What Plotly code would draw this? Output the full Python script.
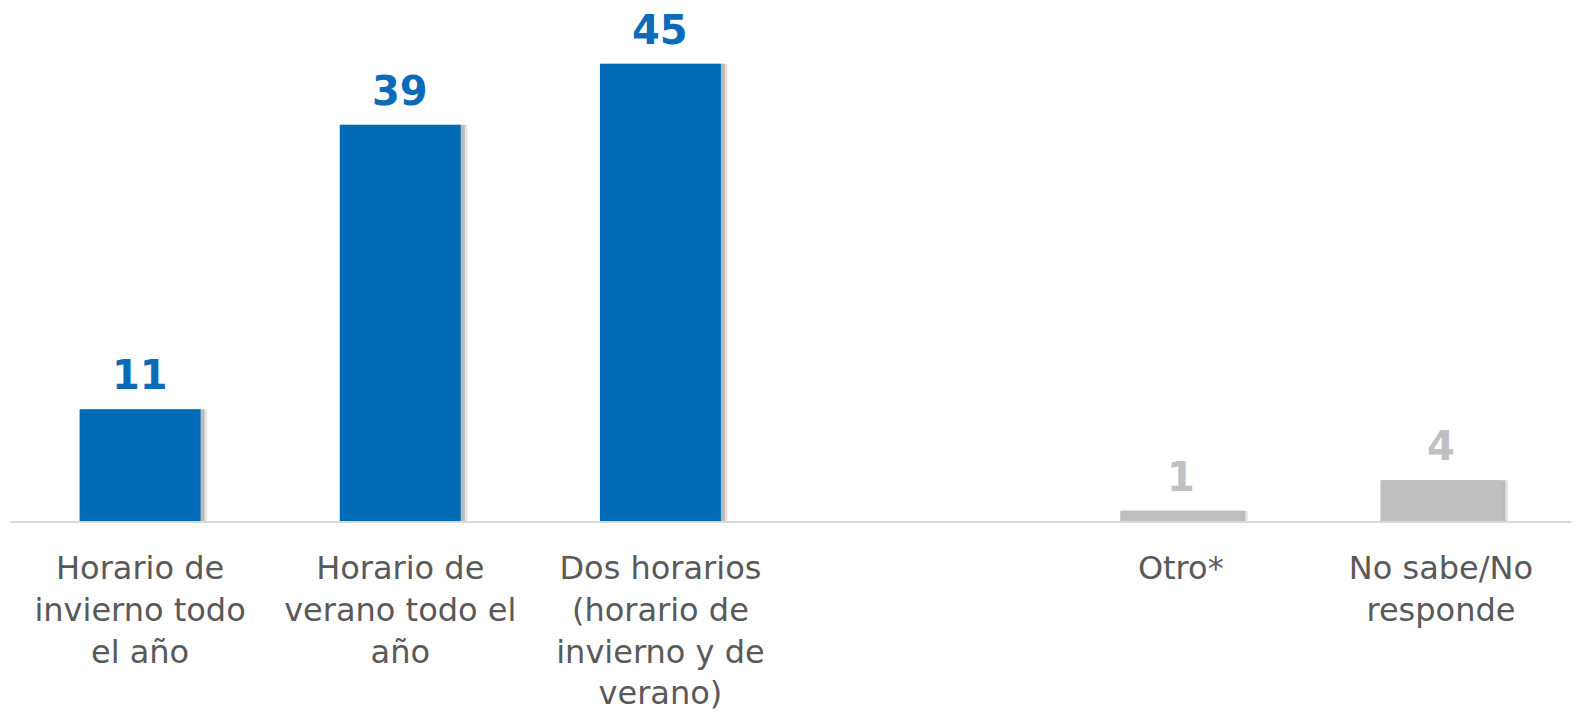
import plotly.graph_objects as go

categories = [
    "Horario de<br>invierno todo<br>el año",
    "Horario de<br>verano todo el<br>año",
    "Dos horarios<br>(horario de<br>invierno y de<br>verano)",
    " ",
    "Otro*",
    "No sabe/No<br>responde",
]
values = [11, 39, 45, None, 1, 4]
value_labels = ["11", "39", "45", "", "1", "4"]

BLUE = "#006bb6"
GRAY = "#bfbfbf"
bar_colors = [BLUE, BLUE, BLUE, GRAY, GRAY, GRAY]
label_colors = ["#0a6cb8", "#0a6cb8", "#0a6cb8", "#c0c0c0", "#c0c0c0", "#c0c0c0"]

fig = go.Figure()

# soft drop shadow (two layers)
fig.add_trace(go.Bar(
    x=categories, y=values, width=0.48, offset=-0.222,
    marker=dict(color="rgba(0,0,0,0.10)", line=dict(width=0)),
    hoverinfo="skip", showlegend=False,
))
fig.add_trace(go.Bar(
    x=categories, y=values, width=0.474, offset=-0.226,
    marker=dict(color="rgba(0,0,0,0.18)", line=dict(width=0)),
    hoverinfo="skip", showlegend=False,
))
fig.add_trace(go.Bar(
    x=categories, y=values, width=0.465, offset=-0.2325,
    marker=dict(color=bar_colors, line=dict(width=0)),
    showlegend=False,
))

for c, v, t, col in zip(categories, values, value_labels, label_colors):
    if v is None:
        continue
    fig.add_annotation(
        x=c, y=v, text=f"<b>{t}</b>", showarrow=False,
        yanchor="bottom", yshift=9,
        font=dict(family="DejaVu Sans", size=40, color=col),
    )

fig.update_layout(
    width=1585, height=717,
    margin=dict(l=10, r=14, t=13, b=196),
    paper_bgcolor="white", plot_bgcolor="white",
    barmode="overlay",
    font=dict(family="DejaVu Sans", size=32, color="#595959"),
)
fig.update_xaxes(
    type="category", categoryorder="array", categoryarray=categories,
    showline=True, linecolor="#d9d9d9", linewidth=2,
    ticks="", showgrid=False, automargin=False, ticklabelstandoff=18,
    tickfont=dict(family="DejaVu Sans", size=32, color="#595959"),
)
fig.update_yaxes(range=[0, 50], visible=False, showgrid=False,
                 zeroline=False, automargin=False)

fig.write_html(
    "out.html",
    config={"displayModeBar": False},
    post_script="document.body.style.margin='0';document.body.style.overflow='hidden';",
)
